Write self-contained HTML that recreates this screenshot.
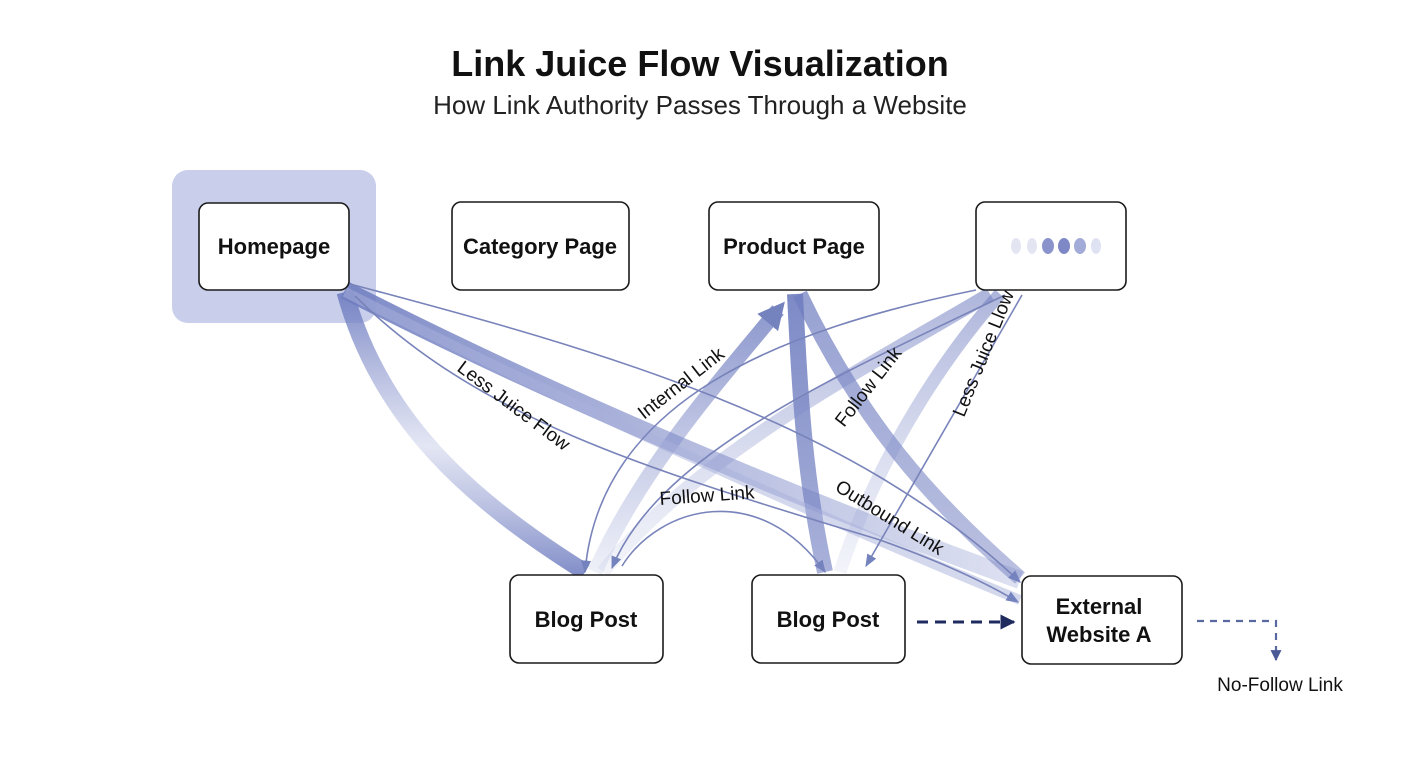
<!DOCTYPE html>
<html><head><meta charset="utf-8"><style>
body{margin:0;background:#fff;}
svg{display:block;font-family:"Liberation Sans",sans-serif;}
</style></head><body>
<svg width="1408" height="768" viewBox="0 0 1408 768" xmlns="http://www.w3.org/2000/svg">
<defs>
<linearGradient id="gA" x1="0" y1="0" x2="0" y2="1"><stop offset="0" stop-color="#6f7dc0" stop-opacity="0.9"/><stop offset="0.55" stop-color="#8f9ad0" stop-opacity="0.25"/><stop offset="1" stop-color="#6f7dc0" stop-opacity="0.85"/></linearGradient>
<linearGradient id="gB" x1="0" y1="0" x2="1" y2="0"><stop offset="0" stop-color="#6f7dc0" stop-opacity="0.9"/><stop offset="1" stop-color="#8f9ad0" stop-opacity="0.3"/></linearGradient>
<linearGradient id="gC" x1="0" y1="1" x2="0" y2="0"><stop offset="0" stop-color="#8f9ad0" stop-opacity="0.15"/><stop offset="1" stop-color="#6f7dc0" stop-opacity="0.8"/></linearGradient>
<linearGradient id="gD" x1="0" y1="0" x2="0" y2="1"><stop offset="0" stop-color="#6f7dc0" stop-opacity="0.9"/><stop offset="1" stop-color="#6f7dc0" stop-opacity="0.6"/></linearGradient>
<marker id="ah" viewBox="0 0 10 10" refX="9" refY="5" markerWidth="8" markerHeight="8" orient="auto-start-reverse"><path d="M0,1 L10,5 L0,9 z" fill="#7482bd"/></marker>
<marker id="ahd" viewBox="0 0 10 10" refX="9" refY="5" markerWidth="5" markerHeight="5" orient="auto"><path d="M0,0 L10,5 L0,10 z" fill="#1f2b5e"/></marker>
<marker id="ahn" viewBox="0 0 10 10" refX="9" refY="5" markerWidth="5" markerHeight="5" orient="auto"><path d="M0,0 L10,5 L0,10 z" fill="#4a5a96"/></marker>
<marker id="ahT" viewBox="0 0 10 10" refX="6" refY="5" markerWidth="1.8" markerHeight="1.8" orient="auto"><path d="M0,0 L10,5 L0,10 z" fill="#7482bd"/></marker>
</defs>

<text x="700" y="76" text-anchor="middle" font-size="36" font-weight="bold" fill="#111">Link Juice Flow Visualization</text>
<text x="700" y="114" text-anchor="middle" font-size="26" fill="#222">How Link Authority Passes Through a Website</text>

<rect x="172" y="170" width="204" height="153" rx="16" fill="#c9cfea"/>

<g fill="none" stroke-linecap="butt">
<path d="M345,292 C380,420 470,500 585,572" stroke="url(#gA)" stroke-width="17"/>
<path d="M345,290 C560,400 800,500 1020,580" stroke="url(#gB)" stroke-width="18"/>
<path d="M795,294 C800,400 805,480 825,572" stroke="url(#gD)" stroke-width="16"/>
<path d="M800,294 C860,420 930,500 1020,578" stroke="url(#gD)" stroke-width="15" opacity="0.8"/>
<path d="M595,572 C640,470 720,380 778,310" stroke="url(#gC)" stroke-width="15" marker-end="url(#ahT)"/>
<path d="M603,572 C700,450 880,360 990,294" stroke="url(#gC)" stroke-width="14" opacity="0.7"/>
<path d="M840,572 C880,450 950,350 1000,294" stroke="url(#gC)" stroke-width="13" opacity="0.7"/>
<path d="M345,292 C600,420 850,530 1020,600" stroke="#aab2dc" stroke-width="10" opacity="0.5"/>
</g>

<g fill="none" stroke="#7883ba" stroke-width="1.6">
<path d="M350,284 C600,350 850,420 1020,582" marker-end="url(#ah)"/>
<path d="M355,296 C480,420 650,470 880,540 C950,565 990,585 1018,602" marker-end="url(#ah)"/>
<path d="M976,290 C780,330 600,400 585,572" marker-end="url(#ah)"/>
<path d="M1005,295 C850,370 660,450 612,568" marker-end="url(#ah)"/>
<path d="M622,566 C660,505 760,480 825,572" marker-end="url(#ah)"/>
<path d="M1022,295 L866,566" marker-end="url(#ah)"/>
</g>

<g font-size="19" fill="#111">
<text transform="translate(456,370) rotate(37)">Less Juice Flow</text>
<text transform="translate(644,420) rotate(-38)">Internal Link</text>
<text transform="translate(660,505) rotate(-4)">Follow Link</text>
<text transform="translate(844,428) rotate(-52)">Follow Link</text>
<text transform="translate(964,418) rotate(-68)">Less Juice Llow</text>
<text transform="translate(834,490) rotate(32)">Outbound Link</text>
</g>

<g fill="#fff" stroke="#1a1a1a" stroke-width="1.6">
<rect x="199" y="203" width="150" height="87" rx="9"/>
<rect x="452" y="202" width="177" height="88" rx="9"/>
<rect x="709" y="202" width="170" height="88" rx="9"/>
<rect x="976" y="202" width="150" height="88" rx="9"/>
<rect x="510" y="575" width="153" height="88" rx="9"/>
<rect x="752" y="575" width="153" height="88" rx="9"/>
<rect x="1022" y="576" width="160" height="88" rx="9"/>
</g>
<g font-size="22" font-weight="bold" fill="#111" text-anchor="middle">
<text x="274" y="254">Homepage</text>
<text x="540" y="254">Category Page</text>
<text x="794" y="254">Product Page</text>
<text x="586" y="627">Blog Post</text>
<text x="828" y="627">Blog Post</text>
<text x="1099" y="614">External</text>
<text x="1099" y="642">Website A</text>
</g>
<g>
<ellipse cx="1016" cy="246" rx="5" ry="8" fill="#e3e5f3"/>
<ellipse cx="1032" cy="246" rx="5" ry="8" fill="#e3e5f3"/>
<ellipse cx="1048" cy="246" rx="6" ry="8" fill="#8a93cc"/>
<ellipse cx="1064" cy="246" rx="6" ry="8" fill="#7e88c6"/>
<ellipse cx="1080" cy="246" rx="6" ry="8" fill="#a3abd8"/>
<ellipse cx="1096" cy="246" rx="5" ry="8" fill="#dfe2f2"/>
</g>

<path d="M917,622 L1014,622" stroke="#1f2b5e" stroke-width="3" stroke-dasharray="11,7" fill="none" marker-end="url(#ahd)"/>
<path d="M1197,621 L1276,621 L1276,660" stroke="#5a68a2" stroke-width="2.2" stroke-dasharray="7,6" fill="none" marker-end="url(#ahn)"/>
<text x="1280" y="691" text-anchor="middle" font-size="19" fill="#111">No-Follow Link</text>
</svg>
</body></html>
